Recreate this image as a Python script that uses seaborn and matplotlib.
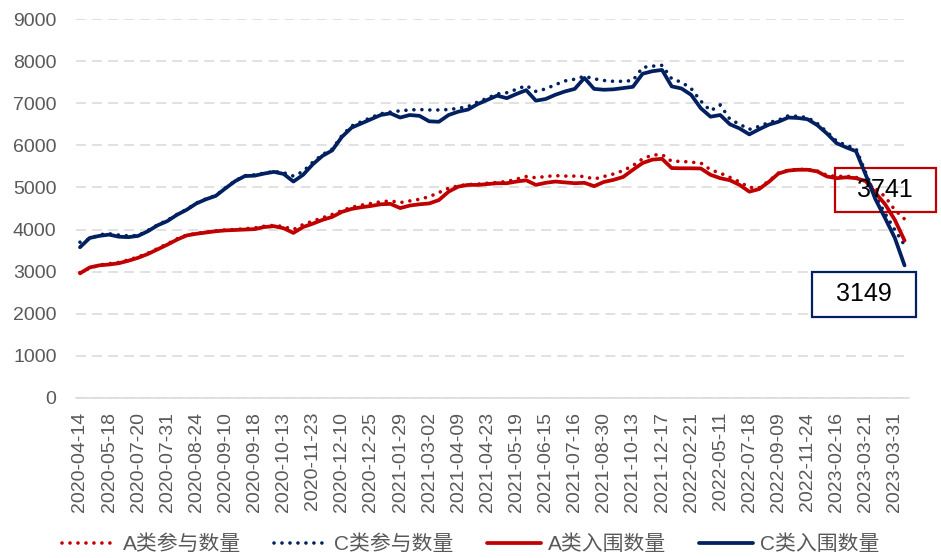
import numpy as np
import matplotlib
matplotlib.use("Agg")
import matplotlib.pyplot as plt
from matplotlib.patches import Rectangle
import seaborn as sns

# x-axis tick labels (one every 3 points)
dates = ["2020-04-14", "2020-05-18", "2020-07-20", "2020-07-31", "2020-08-24",
         "2020-09-10", "2020-09-18", "2020-10-13", "2020-11-23", "2020-12-10",
         "2020-12-25", "2021-01-29", "2021-03-02", "2021-04-09", "2021-04-23",
         "2021-05-19", "2021-06-15", "2021-07-16", "2021-08-30", "2021-10-13",
         "2021-12-17", "2022-02-21", "2022-05-11", "2022-07-18", "2022-09-09",
         "2022-11-24", "2023-02-16", "2023-03-21", "2023-03-31"]

# A类参与数量 (dotted red)
a_part = [2980, 3080, 3160, 3190, 3220, 3280, 3350, 3440, 3550, 3660,
          3780, 3870, 3910, 3940, 3970, 3990, 4000, 4020, 4040, 4080,
          4100, 4070, 4000, 4120, 4200, 4280, 4360, 4450, 4530, 4580,
          4620, 4660, 4680, 4640, 4680, 4720, 4780, 4880, 4980, 5040,
          5070, 5080, 5100, 5120, 5140, 5200, 5260, 5230, 5260, 5280,
          5270, 5270, 5260, 5200, 5260, 5320, 5400, 5520, 5680, 5770,
          5780, 5620, 5620, 5600, 5580, 5420, 5340, 5240, 5130, 5000,
          4990, 5150, 5340, 5410, 5430, 5430, 5390, 5290, 5260, 5270,
          5240, 5150, 4980, 4780, 4465, 4250]

# C类参与数量 (dotted navy)
c_part = [3700, 3780, 3880, 3900, 3870, 3850, 3860, 3980, 4110, 4220,
          4360, 4480, 4630, 4730, 4810, 4990, 5160, 5280, 5300, 5340,
          5380, 5350, 5270, 5380, 5600, 5780, 5910, 6230, 6460, 6560,
          6660, 6750, 6790, 6820, 6840, 6850, 6840, 6840, 6850, 6880,
          6920, 7030, 7120, 7220, 7250, 7330, 7420, 7280, 7340, 7440,
          7530, 7570, 7640, 7580, 7540, 7520, 7520, 7540, 7850, 7880,
          7900, 7580, 7500, 7350, 7050, 6820, 6960, 6620, 6500, 6380,
          6450, 6540, 6600, 6700, 6690, 6660, 6520, 6320, 6100, 6000,
          5920, 5350, 4800, 4380, 3990, 3630]

# A类入围数量 (solid red)
a_in = [2960, 3100, 3150, 3170, 3200, 3260, 3330, 3420, 3530, 3640,
        3760, 3860, 3900, 3930, 3960, 3980, 3990, 4000, 4010, 4060,
        4080, 4030, 3920, 4060, 4140, 4230, 4300, 4420, 4490, 4530,
        4560, 4600, 4610, 4510, 4570, 4600, 4620, 4700, 4900, 5020,
        5060, 5060, 5080, 5100, 5100, 5140, 5170, 5060, 5110, 5140,
        5120, 5100, 5110, 5030, 5130, 5180, 5250, 5420, 5580, 5660,
        5680, 5460, 5455, 5455, 5450, 5300, 5220, 5170, 5060, 4900,
        4960, 5130, 5330, 5400, 5420, 5420, 5380, 5260, 5220, 5240,
        5220, 5150, 4870, 4600, 4230, 3741]

# C类入围数量 (solid navy)
c_in = [3580, 3800, 3850, 3880, 3830, 3820, 3850, 3960, 4100, 4200,
        4350, 4470, 4620, 4720, 4800, 4980, 5150, 5270, 5280, 5330,
        5370, 5320, 5140, 5300, 5550, 5750, 5880, 6200, 6420, 6520,
        6620, 6720, 6760, 6660, 6720, 6700, 6570, 6560, 6720, 6800,
        6850, 6980, 7080, 7180, 7120, 7220, 7310, 7060, 7100, 7200,
        7280, 7340, 7600, 7340, 7320, 7330, 7360, 7390, 7700, 7760,
        7790, 7400, 7350, 7200, 6880, 6680, 6720, 6500, 6400, 6260,
        6380, 6490, 6560, 6660, 6650, 6620, 6480, 6280, 6050, 5950,
        5860, 5300, 4720, 4270, 3800, 3149]

RED = "#C00000"
NAVY = "#002060"
GREY = "#595959"
GRID = "#D9D9D9"

sns.set_theme(style="white")
plt.rcParams["font.family"] = ["Liberation Sans", "Noto Sans CJK SC"]

fig = plt.figure(figsize=(9.41, 5.58), dpi=100)
ax = fig.add_axes([76 / 941, 1 - 398 / 558, (909 - 76) / 941, (398 - 19) / 558])

x = np.arange(len(c_in))
series = [
    ("A类参与数量", a_part, RED, True),
    ("C类参与数量", c_part, NAVY, True),
    ("A类入围数量", a_in, RED, False),
    ("C类入围数量", c_in, NAVY, False),
]
for name, vals, color, dotted in series:
    if dotted:
        sns.lineplot(x=x, y=vals, ax=ax, color=color, lw=2.6, label=name,
                     linestyle=(0, (0.01, 2.2)), dash_capstyle="round", zorder=3)
    else:
        sns.lineplot(x=x, y=vals, ax=ax, color=color, lw=2.7, label=name,
                     solid_capstyle="round", zorder=4)

ax.set_xlim(-0.41, 85.46)
ax.set_ylim(0, 9000)
ax.set_yticks(np.arange(0, 9001, 1000))
ax.set_xticks(x[::3])
ax.set_xticklabels(dates, rotation=90)
ax.tick_params(axis="both", length=0, colors=GREY, labelsize=14)
ax.tick_params(axis="x", pad=10)
ax.tick_params(axis="y", pad=14)
ax.set_xlabel("")
ax.set_ylabel("")

ax.yaxis.grid(True, color=GRID, lw=1.1, linestyle=(0, (6.5, 4)))
ax.xaxis.grid(False)
ax.set_axisbelow(True)
for side in ["top", "right", "left"]:
    ax.spines[side].set_visible(False)
ax.spines["bottom"].set_color(GRID)
ax.spines["bottom"].set_linewidth(1.1)

# end-value call-outs
ax.add_patch(Rectangle((77.84, 4418), 10.41, 1045, fill=False, edgecolor=RED,
                       lw=1.6, clip_on=False, zorder=2))
ax.text(83.0, 4940, "3741", ha="center", va="center", fontsize=18,
        color="black", zorder=6, clip_on=False)
ax.add_patch(Rectangle((75.46, 1924), 10.73, 1069, facecolor="white",
                       edgecolor=NAVY, lw=1.6, clip_on=False, zorder=2))
ax.text(80.8, 2460, "3149", ha="center", va="center", fontsize=18,
        color="black", zorder=6, clip_on=False)

handles, labels = ax.get_legend_handles_labels()
ax.get_legend().remove()
fig.legend(handles, labels, loc="center", bbox_to_anchor=(0.5, 0.025), ncol=4,
           frameon=False, fontsize=15, handlelength=2.6, columnspacing=1.6,
           handletextpad=0.3, labelcolor=GREY)

fig.savefig("out.png", dpi=100)
